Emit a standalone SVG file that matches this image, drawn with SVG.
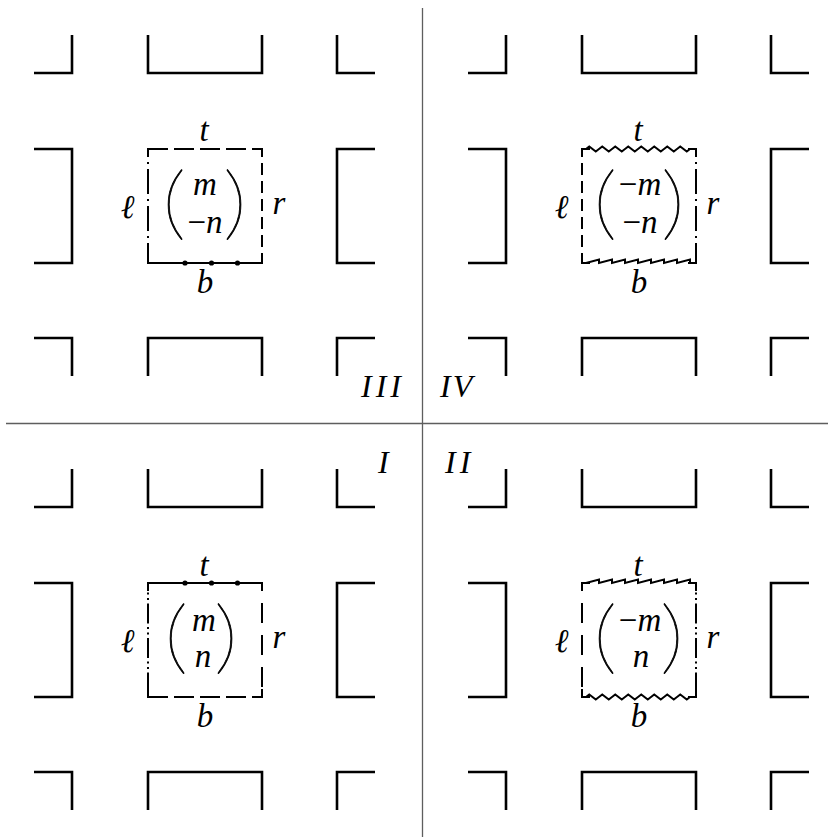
<svg xmlns="http://www.w3.org/2000/svg" width="828" height="837" viewBox="0 0 828 837">
<style>
.bg{fill:#fff}
.div{stroke:#5e5e5e;stroke-width:1.3;fill:none}
.pc{stroke:#000;stroke-width:2.6;fill:none;stroke-linejoin:miter}
.e{stroke:#000;stroke-width:2;fill:none}
.dA{stroke-dasharray:20 6}
.dB{stroke-dasharray:12 6;stroke-dashoffset:4}
.dC{stroke-dasharray:25 5 2 5;stroke-dashoffset:17}
.dE{stroke-dasharray:20 12;stroke-dashoffset:12}
.dF{stroke-dasharray:20 3.5 2 3.5 2 3.5;stroke-dashoffset:14}
.dot{fill:#000}
.m{font-family:'Liberation Serif','DejaVu Serif',serif;font-style:italic;font-size:33px;fill:#000}
.mid{text-anchor:middle}
.up{font-style:normal}
.par{font-family:Lato,'Noto Sans',sans-serif;font-weight:100;font-size:80px;text-anchor:middle;fill:#000;stroke:#000;stroke-width:0.7}
.num{font-family:'Liberation Serif','DejaVu Serif',serif;font-style:italic;font-size:32px;fill:#000}
</style>
<defs>
<path id="pieces" class="pc" d="M34,73 H72 V35 M148,35 V73 H262 V35 M337,35 V73 H375 M34,149 H72 V263 H34 M375,149 H337 V263 H375 M34,338 H72 V376 M148,376 V338 H262 V376 M337,376 V338 H375"/>
<path id="corners" class="e" d="M148,157 V149 H156 M254,149 H262 V157 M262,255 V263 H254 M156,263 H148 V255"/>
<path id="zigT" class="e" d="M148,149 H152 l3.25,-2.5 6.5,5 3.25,-2.5 3.25,-2.5 6.5,5 3.25,-2.5 3.25,-2.5 6.5,5 3.25,-2.5 3.25,-2.5 6.5,5 3.25,-2.5 3.25,-2.5 6.5,5 3.25,-2.5 3.25,-2.5 6.5,5 3.25,-2.5 3.25,-2.5 6.5,5 3.25,-2.5 3.25,-2.5 6.5,5 3.25,-2.5 H262"/>
<path id="zigB" class="e" d="M148,263 H152 l3.25,-2.5 6.5,5 3.25,-2.5 3.25,-2.5 6.5,5 3.25,-2.5 3.25,-2.5 6.5,5 3.25,-2.5 3.25,-2.5 6.5,5 3.25,-2.5 3.25,-2.5 6.5,5 3.25,-2.5 3.25,-2.5 6.5,5 3.25,-2.5 3.25,-2.5 6.5,5 3.25,-2.5 3.25,-2.5 6.5,5 3.25,-2.5 H262"/>
<path id="sawT" class="e" d="M148,149 H152 l13,-3.5 0,3.5 13,-3.5 0,3.5 13,-3.5 0,3.5 13,-3.5 0,3.5 13,-3.5 0,3.5 13,-3.5 0,3.5 13,-3.5 0,3.5 13,-3.5 0,3.5 H262"/>
<path id="sawB" class="e" d="M148,263 H152 l13,-3.5 0,3.5 13,-3.5 0,3.5 13,-3.5 0,3.5 13,-3.5 0,3.5 13,-3.5 0,3.5 13,-3.5 0,3.5 13,-3.5 0,3.5 13,-3.5 0,3.5 H262"/>
</defs>
<rect class="bg" x="0" y="0" width="828" height="837"/>
<g id="dividers">
<line class="div" x1="422.5" y1="8" x2="422.5" y2="837"/>
<line class="div" x1="6" y1="423.5" x2="828" y2="423.5"/>
</g>
<g id="quadrant-III">
<use href="#pieces"/>
<use href="#corners"/>
<line class="e dA" x1="148" y1="149" x2="262" y2="149"/>
<line class="e dB" x1="262" y1="149" x2="262" y2="263"/>
<line class="e" x1="148" y1="263" x2="262" y2="263"/>
<circle class="dot" cx="185" cy="263" r="2.6"/><circle class="dot" cx="211.5" cy="263" r="2.6"/><circle class="dot" cx="237.5" cy="263" r="2.6"/>
<line class="e dC" x1="148" y1="149" x2="148" y2="263"/>
<text class="m mid" x="204" y="141">t</text>
<text class="m mid" x="205" y="293">b</text>
<text class="m mid" x="127.5" y="218">ℓ</text>
<text class="m mid" x="279" y="214">r</text>
<text class="par" transform="translate(174,230) scale(1.2,1)">(</text>
<text class="par" transform="translate(235,230) scale(1.2,1)">)</text>
<text class="m mid" x="205" y="195">m</text>
<text class="m mid" x="205" y="233"><tspan class="up">−</tspan>n</text>
<text class="num" x="361" y="396.5" letter-spacing="4">III</text>
</g>
<g id="quadrant-IV" transform="translate(434,0)">
<use href="#pieces"/>
<use href="#corners"/>
<use href="#zigT"/>
<use href="#sawB"/>
<line class="e dB" x1="148" y1="149" x2="148" y2="263"/>
<line class="e dC" x1="262" y1="149" x2="262" y2="263"/>
<text class="m mid" x="204" y="141">t</text>
<text class="m mid" x="205" y="293">b</text>
<text class="m mid" x="127.5" y="218">ℓ</text>
<text class="m mid" x="279" y="214">r</text>
<text class="par" transform="translate(171,230) scale(1.2,1)">(</text>
<text class="par" transform="translate(239,230) scale(1.2,1)">)</text>
<text class="m mid" x="206" y="195"><tspan class="up">−</tspan>m</text>
<text class="m mid" x="206" y="233"><tspan class="up">−</tspan>n</text>
<text class="num" x="6" y="396.5" letter-spacing="2">IV</text>
</g>
<g id="quadrant-I" transform="translate(0,434)">
<use href="#pieces"/>
<use href="#corners"/>
<line class="e" x1="148" y1="149" x2="262" y2="149"/>
<circle class="dot" cx="185" cy="149" r="2.6"/><circle class="dot" cx="211.5" cy="149" r="2.6"/><circle class="dot" cx="237.5" cy="149" r="2.6"/>
<line class="e dA" x1="148" y1="263" x2="262" y2="263"/>
<line class="e dF" x1="148" y1="149" x2="148" y2="263"/>
<line class="e dE" x1="262" y1="149" x2="262" y2="263"/>
<text class="m mid" x="204" y="142">t</text>
<text class="m mid" x="205" y="293">b</text>
<text class="m mid" x="127.5" y="218">ℓ</text>
<text class="m mid" x="279" y="214">r</text>
<text class="par" transform="translate(176,230) scale(1.2,1)">(</text>
<text class="par" transform="translate(226,230) scale(1.2,1)">)</text>
<text class="m mid" x="204" y="197">m</text>
<text class="m mid" x="203" y="233">n</text>
<text class="num" x="378" y="38.5">I</text>
</g>
<g id="quadrant-II" transform="translate(434,434)">
<use href="#pieces"/>
<use href="#corners"/>
<use href="#sawT"/>
<use href="#zigB"/>
<line class="e dE" x1="148" y1="149" x2="148" y2="263"/>
<line class="e dF" x1="262" y1="149" x2="262" y2="263"/>
<text class="m mid" x="204" y="142">t</text>
<text class="m mid" x="205" y="293">b</text>
<text class="m mid" x="127.5" y="218">ℓ</text>
<text class="m mid" x="279" y="214">r</text>
<text class="par" transform="translate(171,230) scale(1.2,1)">(</text>
<text class="par" transform="translate(238,230) scale(1.2,1)">)</text>
<text class="m mid" x="206" y="197"><tspan class="up">−</tspan>m</text>
<text class="m mid" x="207" y="233">n</text>
<text class="num" x="11" y="38.5" letter-spacing="4">II</text>
</g>
</svg>
